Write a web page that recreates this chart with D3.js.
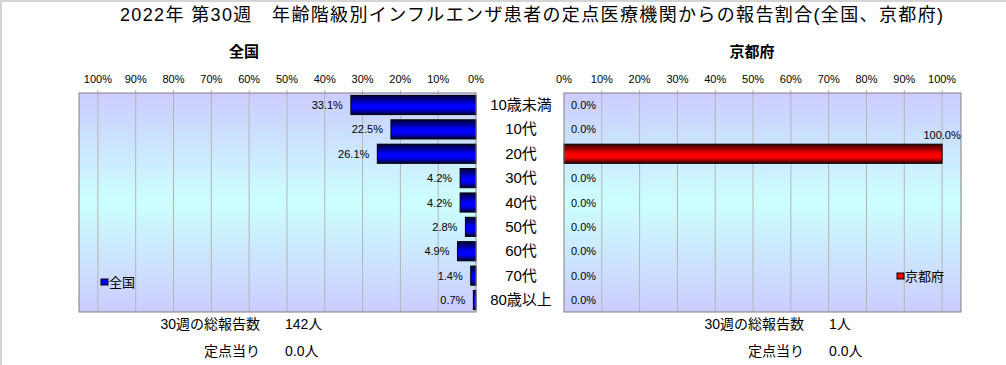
<!DOCTYPE html>
<html>
<head>
<meta charset="utf-8">
<script src="https://cdn.jsdelivr.net/npm/d3@7"></script>
<style>
  body { margin: 0; background: #fff; }
  svg text { font-family: "Liberation Sans", "Noto Sans CJK JP", sans-serif; fill: #000; }
</style>
</head>
<body>
<svg id="chart" width="1006" height="365"></svg>
<script>
// data
const categories = ["10歳未満", "10代", "20代", "30代", "40代", "50代", "60代", "70代", "80歳以上"];
const national   = [33.1, 22.5, 26.1, 4.2, 4.2, 2.8, 4.9, 1.4, 0.7];
const kyoto      = [0, 0, 100, 0, 0, 0, 0, 0, 0];
const tickValues = [0, 10, 20, 30, 40, 50, 60, 70, 80, 90, 100];
const panelNames = ["全国", "京都府"];
const weekNo     = 30;
const totals     = [142, 1];
const perSite    = [0.0, 0.0];
const title      = "2022年 第30週　年齢階級別インフルエンザ患者の定点医療機関からの報告割合(全国、京都府)";

const svg = d3.select("#chart");
const plotTop = 93, plotBottom = 312;

// page frame
svg.append("path").attr("d", "M1,365V1H1006").attr("fill", "none")
   .attr("stroke", "#d4d4d4").attr("stroke-width", 2);

const defs = svg.append("defs");
const bg = defs.append("linearGradient").attr("id", "bg").attr("x1", 0).attr("y1", 0).attr("x2", 0).attr("y2", 1);
bg.append("stop").attr("offset", "0%").attr("stop-color", "#ccccff");
bg.append("stop").attr("offset", "50%").attr("stop-color", "#ccffff");
bg.append("stop").attr("offset", "100%").attr("stop-color", "#ccccff");

function barGrad(id, dark, bright) {
  const g = defs.append("linearGradient").attr("id", id).attr("x1", 0).attr("y1", 0).attr("x2", 0).attr("y2", 1);
  g.append("stop").attr("offset", "0%").attr("stop-color", dark);
  g.append("stop").attr("offset", "50%").attr("stop-color", bright);
  g.append("stop").attr("offset", "70%").attr("stop-color", bright);
  g.append("stop").attr("offset", "100%").attr("stop-color", dark);
}
barGrad("gBlue", "#000033", "#0000ff");
barGrad("gRed", "#330000", "#ff0000");

// title
svg.append("text")
   .attr("x", 120).attr("y", 21)
   .attr("textLength", 823).attr("lengthAdjust", "spacing")
   .style("font-size", "18px")
   .text(title);

const y = d3.scaleBand().domain(categories).range([plotTop, plotBottom])
            .paddingInner(0.215).paddingOuter(0.1);

// category labels between panels
svg.append("g").selectAll("text")
   .data(categories).enter().append("text")
   .attr("x", 521)
   .attr("y", d => y(d) + y.bandwidth() / 2 + 5)
   .attr("text-anchor", "middle")
   .style("font-size", "15px")
   .text(d => d);

const panels = [
  {name: panelNames[0], values: national, x: d3.scaleLinear().domain([0, 105]).range([476, 79]),
   fill: "url(#gBlue)", legendColor: "#0000ff", legendX: 101, legendY: 282, sumX: 260, total: totals[0], per: perSite[0]},
  {name: panelNames[1], values: kyoto, x: d3.scaleLinear().domain([0, 105]).range([564, 961]),
   fill: "url(#gRed)", legendColor: "#ff0000", legendX: 897, legendY: 276, sumX: 804, total: totals[1], per: perSite[1]}
];

panels.forEach((p, pi) => {
  const x = p.x, x0 = d3.min(x.range()), x1 = d3.max(x.range());
  const left = pi === 0;
  const g = svg.append("g");

  g.append("rect")
   .attr("x", x0).attr("y", plotTop).attr("width", x1 - x0).attr("height", plotBottom - plotTop)
   .attr("fill", "url(#bg)");

  g.selectAll(".grid")
   .data(tickValues.filter(t => t > 0)).enter().append("line")
   .attr("x1", d => x(d)).attr("x2", d => x(d))
   .attr("y1", plotTop - 3).attr("y2", plotBottom)
   .attr("stroke", "#b4b4b4");

  // tick labels along the top
  g.selectAll(".tick")
   .data(tickValues).enter().append("text")
   .attr("x", d => x(d)).attr("y", 83)
   .attr("text-anchor", "middle")
   .style("font-size", "11px")
   .text(d => d + "%");

  // panel name
  g.append("text")
   .attr("x", left ? 244 : 752).attr("y", 57)
   .attr("text-anchor", "middle")
   .style("font-size", "15px").style("font-weight", "bold")
   .text(p.name);

  const rows = categories.map((c, i) => ({c: c, v: p.values[i]}));

  g.selectAll(".bar")
   .data(rows.filter(d => d.v > 0)).enter().append("rect")
   .attr("x", d => Math.min(x(0), x(d.v)))
   .attr("y", d => y(d.c))
   .attr("width", d => Math.abs(x(d.v) - x(0)))
   .attr("height", y.bandwidth())
   .attr("fill", p.fill)
   .attr("stroke", "#000").attr("stroke-width", 1);

  g.append("rect")
   .attr("x", x0).attr("y", plotTop).attr("width", x1 - x0).attr("height", plotBottom - plotTop)
   .attr("fill", "none").attr("stroke", "#808080");

  // value labels
  g.selectAll(".val")
   .data(rows).enter().append("text")
   .attr("x", d => {
     if (d.v > 90) return x(d.v);
     return left ? x(d.v) - 8 : x(d.v) + 7;
   })
   .attr("y", d => d.v > 90 ? y(d.c) - 5 : y(d.c) + y.bandwidth() / 2 + 4)
   .attr("text-anchor", d => d.v > 90 ? "middle" : (left ? "end" : "start"))
   .style("font-size", "11px")
   .text(d => d.v.toFixed(1) + "%");

  // legend
  g.append("rect")
   .attr("x", p.legendX).attr("y", p.legendY - 3).attr("width", 7).attr("height", 6)
   .attr("fill", p.legendColor).attr("stroke", "#000");
  g.append("text")
   .attr("x", p.legendX + 8).attr("y", p.legendY + 5)
   .style("font-size", "13px")
   .text(p.name);

  // totals under the panel
  g.append("text").attr("x", p.sumX).attr("y", 329).attr("text-anchor", "end")
   .style("font-size", "14px").text(weekNo + "週の総報告数");
  g.append("text").attr("x", p.sumX + 25).attr("y", 329)
   .style("font-size", "14px").text(p.total + "人");
  g.append("text").attr("x", p.sumX).attr("y", 356).attr("text-anchor", "end")
   .style("font-size", "14px").text("定点当り");
  g.append("text").attr("x", p.sumX + 25).attr("y", 356)
   .style("font-size", "14px").text(p.per.toFixed(1) + "人");
});
</script>
</body>
</html>
